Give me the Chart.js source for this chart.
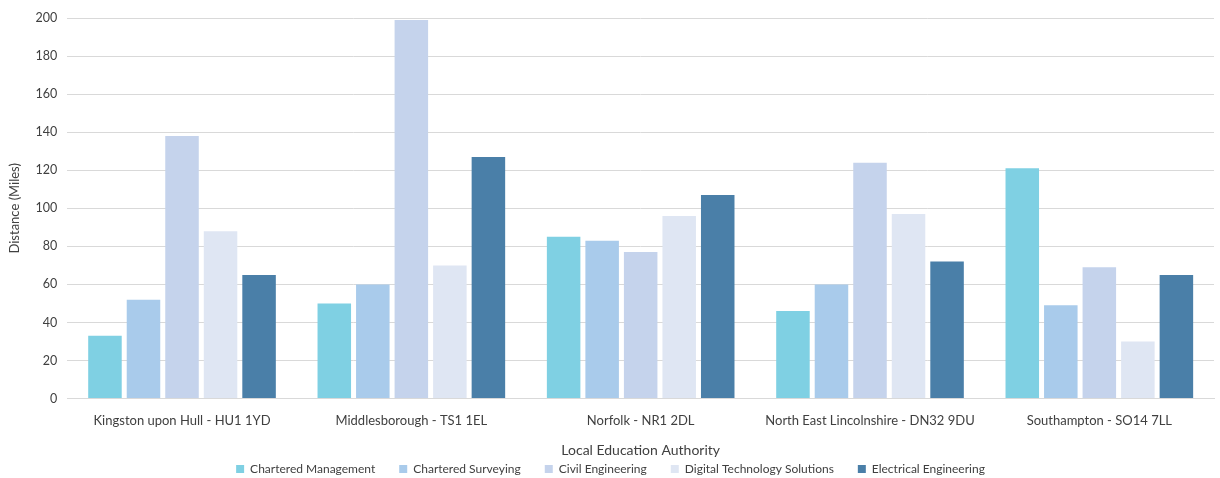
<!DOCTYPE html>
<html>
<head>
<meta charset="utf-8">
<script src="https://cdn.jsdelivr.net/npm/chart.js@4/dist/chart.umd.min.js"></script>
<style>
html,body{margin:0;padding:0;background:#fff;}
#wrap{width:1220px;height:478px;position:relative;}
</style>
</head>
<body>
<div id="wrap"><canvas id="c" width="1220" height="478"></canvas></div>
<script>
const categories = ["Kingston upon Hull - HU1 1YD","Middlesborough - TS1 1EL","Norfolk - NR1 2DL","North East Lincolnshire - DN32 9DU","Southampton - SO14 7LL"];
const seriesNames = ["Chartered Management","Chartered Surveying","Civil Engineering","Digital Technology Solutions","Electrical Engineering"];
const charteredManagement = [33, 50, 85, 46, 121];
const charteredSurveying = [52, 60, 83, 60, 49];
const civilEngineering = [138, 199, 77, 124, 69];
const digitalTechnology = [88, 70, 96, 97, 30];
const electricalEngineering = [65, 127, 107, 72, 65];
const yTicks = [0,20,40,60,80,100,120,140,160,180,200];
const colors = ["#7fd0e3","#a9cbeb","#c5d3ec","#dfe6f3","#4a7fa8"];

const values = [charteredManagement, charteredSurveying, civilEngineering, digitalTechnology, electricalEngineering];
const FONT = "Lato, 'Open Sans', sans-serif";
const LEGEND_PAD = 24;     // horizontal spacing between legend items
const LEGEND_H = 16;       // vertical space reserved for the legend row
const LEGEND_OFFSET = 1;   // item top below reserved legend box top

const legendFix = {
  id: 'legendFix',
  beforeLayout(chart) {
    const l = chart.legend;
    if (l && !l._patched) {
      const orig = l.fit.bind(l);
      l.fit = function () { orig(); this.height = LEGEND_H; };
      l._patched = true;
    }
  },
  afterLayout(chart) {
    const l = chart.legend;
    if (l) { l.top -= (LEGEND_PAD - LEGEND_OFFSET); }
  }
};

new Chart(document.getElementById('c'), {
  type: 'bar',
  data: {
    labels: categories,
    datasets: seriesNames.map((n,i)=>({
      label: n,
      data: values[i],
      backgroundColor: colors[i],
      borderWidth: 0,
      categoryPercentage: 0.84,
      barPercentage: 0.87
    }))
  },
  plugins: [legendFix],
  options: {
    responsive: false,
    animation: false,
    layout: { padding: { top: 18, right: 6, left: 7, bottom: 0 } },
    plugins: {
      legend: {
        position: 'bottom',
        labels: { boxWidth: 8, boxHeight: 8, padding: LEGEND_PAD, color: '#404040', font: { family: FONT, size: 12 } }
      },
      tooltip: { enabled: false }
    },
    scales: {
      x: {
        grid: { display: false, drawTicks: false },
        border: { color: '#d9d9d9', width: 1 },
        ticks: { color: '#404040', font: { family: FONT, size: 13 }, padding: 14, maxRotation: 0 },
        title: { display: true, text: 'Local Education Authority', color: '#404040', font: { family: FONT, size: 14 }, padding: { top: 0, bottom: 3 } }
      },
      y: {
        min: 0, max: 200,
        afterBuildTicks: (s) => { s.ticks = yTicks.map(v => ({ value: v })); },
        grid: { color: '#d9d9d9', drawTicks: false },
        border: { display: false },
        ticks: { color: '#404040', font: { family: FONT, size: 12.5 }, padding: 10 },
        title: { display: true, text: 'Distance (Miles)', color: '#404040', font: { family: FONT, size: 13 }, padding: { top: 0, bottom: 3 } }
      }
    }
  }
});
</script>
</body>
</html>
